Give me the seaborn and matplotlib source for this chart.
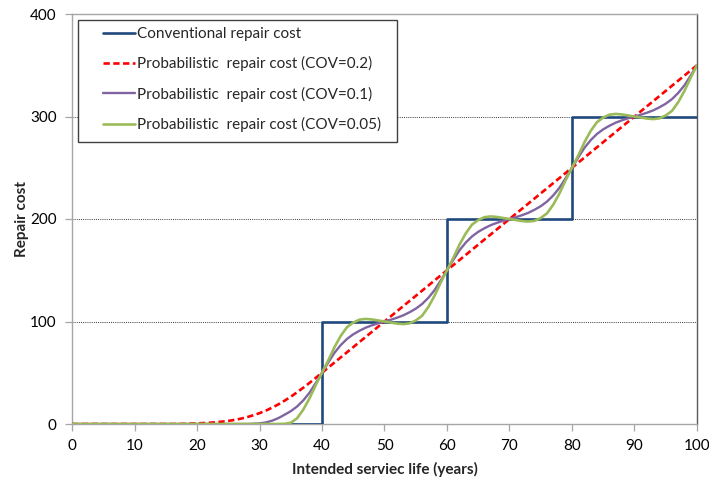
import matplotlib
matplotlib.use("Agg")
import matplotlib.pyplot as plt
import seaborn as sns
import pandas as pd
from matplotlib.patches import Rectangle
from matplotlib.lines import Line2D

# Intended service life axis (years)
years = list(range(0, 101))

# Conventional (deterministic) repair cost: step at each repair
step_years = [0, 40, 60, 80, 100]
step_cost = [0, 100, 200, 300, 300]

# Probabilistic repair cost, COV = 0.2
cost_cov20 = [
    0, 0, 0, 0, 0, 0, 0, 0, 0, 0,
    0, 0, 0, 0, 0, 0, 0, 0, 0.2, 0.4,
    0.6, 0.9, 1.2, 1.7, 2.3, 3.0, 4.0, 5.2, 6.7, 8.5,
    10.6, 13.0, 15.9, 19.1, 22.7, 26.6, 30.9, 35.4, 40.1, 45.0,
    50, 55, 60, 65, 70, 75, 80, 85, 90, 95,
    100, 105, 110, 115, 120, 125, 130, 135, 140, 145,
    150, 155, 160, 165, 170, 175, 180, 185, 190, 195,
    200, 205, 210, 215, 220, 225, 230, 235, 240, 245,
    250, 255, 260, 265, 270, 275, 280, 285, 290, 295,
    300, 305, 310, 315, 320, 325, 330, 335, 340, 345,
    350,
]

# Probabilistic repair cost, COV = 0.1
cost_cov10 = [
    0, 0, 0, 0, 0, 0, 0, 0, 0, 0,
    0, 0, 0, 0, 0, 0, 0, 0, 0, 0,
    0, 0, 0, 0, 0, 0, 0, 0, 0, 0.2,
    0.6, 1.5, 3.2, 5.7, 9.0, 12.5, 17.0, 23.0, 30.5, 40.0,
    50, 60, 69.5, 77, 83, 87.5, 91, 94, 96.3, 98.3,
    100, 101.7, 103.7, 106, 109, 112.5, 117, 123, 130.5, 140,
    150, 160, 169.5, 177, 183, 187.5, 191, 194, 196.3, 198.3,
    200, 201.7, 203.7, 206, 209, 212.5, 217, 223, 230.5, 240,
    250, 260, 269.5, 277, 283, 287.5, 291, 294, 296.3, 298.3,
    300, 301.7, 303.7, 306, 309, 312.5, 317, 323, 330.5, 340,
    350,
]

# Probabilistic repair cost, COV = 0.05
cost_cov05 = [
    0, 0, 0, 0, 0, 0, 0, 0, 0, 0,
    0, 0, 0, 0, 0, 0, 0, 0, 0, 0,
    0, 0, 0, 0, 0, 0, 0, 0, 0, 0,
    0, 0, 0, 0, 0.2, 1.2, 5.5, 14, 25, 38,
    50, 62, 75, 86, 94.5, 99, 101.8, 102.5, 102, 101,
    100, 99, 98, 97.5, 98.2, 101, 105.5, 114, 125, 138,
    150, 162, 175, 186, 194.5, 199, 201.8, 202.5, 202, 201,
    200, 199, 198, 197.5, 198.2, 201, 205.5, 214, 225, 238,
    250, 262, 275, 286, 294.5, 299, 301.8, 302.5, 302, 301,
    300, 299, 298, 297.5, 298.2, 301, 305.5, 314, 325, 338,
    350,
]

labels = [
    "Conventional repair cost",
    "Probabilistic  repair cost (COV=0.2)",
    "Probabilistic  repair cost (COV=0.1)",
    "Probabilistic  repair cost (COV=0.05)",
]
colors = ["#1F497D", "#FF0000", "#8064A2", "#9BBB59"]
dash = (0, (2.4, 1.3))

df = pd.DataFrame({
    "year": years,
    "cov20": cost_cov20,
    "cov10": cost_cov10,
    "cov05": cost_cov05,
})
steps = pd.DataFrame({"year": step_years, "cost": step_cost})

sns.set_theme(style="white")
plt.rcParams["font.family"] = ["Lato", "DejaVu Sans"]

fig = plt.figure(figsize=(7.09, 4.8), dpi=100)
ax = fig.add_axes([72 / 709, 1 - 424 / 480, 625 / 709, 410 / 480])

sns.lineplot(data=steps, x="year", y="cost", ax=ax, color=colors[0], lw=1.9,
             drawstyle="steps-post", estimator=None, sort=False, zorder=3)
sns.lineplot(data=df, x="year", y="cov20", ax=ax, color=colors[1], lw=1.9,
             linestyle=dash, estimator=None, zorder=4)
sns.lineplot(data=df, x="year", y="cov10", ax=ax, color=colors[2], lw=1.7,
             estimator=None, zorder=5)
sns.lineplot(data=df, x="year", y="cov05", ax=ax, color=colors[3], lw=1.9,
             estimator=None, zorder=6)

ax.set_xlim(0, 100)
ax.set_ylim(0, 400)
ax.set_xticks(range(0, 101, 10))
ax.set_yticks(range(0, 401, 100))

# Dotted horizontal gridlines
ax.set_axisbelow(True)
ax.yaxis.grid(True, color="#3a3a3a", linestyle=(0, (1, 1.2)), linewidth=0.7)
ax.xaxis.grid(False)

for side in ["left", "bottom", "top"]:
    ax.spines[side].set_color("#a6a6a6")
    ax.spines[side].set_linewidth(1.0)
ax.spines["right"].set_color("#595959")
ax.spines["right"].set_linewidth(1.0)

ax.tick_params(axis="both", direction="out", length=5, width=0.9,
               color="#a6a6a6", labelsize=11, pad=6, labelcolor="#000000")
ax.tick_params(axis="x", bottom=True)
ax.tick_params(axis="y", left=True)

ax.set_xlabel("Intended serviec life (years)", fontsize=11,
              fontweight="bold", labelpad=6)
ax.set_ylabel("Repair cost", fontsize=11, fontweight="bold")
ax.yaxis.set_label_coords(-43 / 625, 0.5)

# Legend box
frame = Rectangle((6 / 625, (424 - 142) / 410), (397 - 78) / 625, 122 / 410,
                  transform=ax.transAxes, facecolor="white",
                  edgecolor="#404040", linewidth=1.0, zorder=7)
ax.add_patch(frame)

handles = [
    Line2D([], [], color=colors[0], lw=1.9),
    Line2D([], [], color=colors[1], lw=1.9, linestyle=dash),
    Line2D([], [], color=colors[2], lw=1.7),
    Line2D([], [], color=colors[3], lw=1.9),
]
leg = ax.legend(handles, labels, loc="upper left",
                bbox_to_anchor=(31 / 625, (424 - 27) / 410),
                frameon=False, fontsize=11, handlelength=2.1,
                handletextpad=0.15, labelspacing=1.0, borderpad=0,
                borderaxespad=0)
leg.set_zorder(8)

fig.savefig("out.png", dpi=100)
